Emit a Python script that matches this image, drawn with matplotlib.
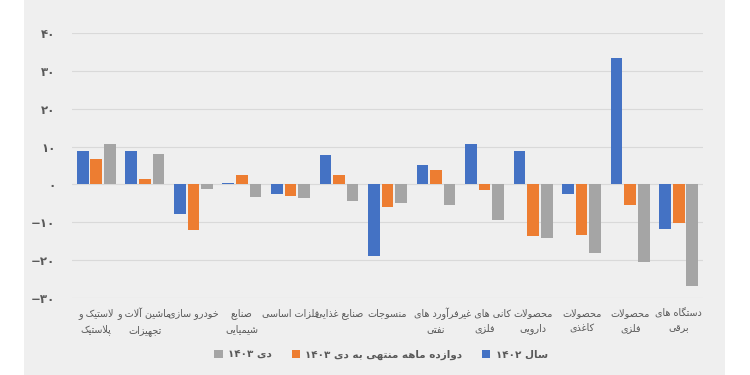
import numpy as np
import matplotlib
matplotlib.use("Agg")
import matplotlib.pyplot as plt
from matplotlib.patches import Rectangle, Patch
from matplotlib.ticker import FuncFormatter

# ---- data ----
categories = [
    "لاستیک و\nپلاستیک",
    "ماشین آلات و\nتجهیزات",
    "خودرو سازی",
    "صنایع\nشیمیایی",
    "فلزات اساسی",
    "صنایع غذایی",
    "منسوجات",
    "فرآورد های\nنفتی",
    "کانی های غیر\nفلزی",
    "محصولات\nدارویی",
    "محصولات\nکاغذی",
    "محصولات\nفلزی",
    "دستگاه های\nبرقی",
]
year_1402 = [8.8, 8.7, -7.8, 0.5, -2.4, 7.9, -19.0, 5.2, 10.7, 8.8, -2.6, 33.4, -11.7]
twelve_months = [6.7, 1.4, -12.1, 2.4, -3.1, 2.4, -5.9, 3.8, -1.5, -13.5, -13.3, -5.4, -10.2]
dey_1403 = [10.6, 8.0, -1.2, -3.3, -3.5, -4.3, -4.9, -5.4, -9.3, -14.1, -18.1, -20.5, -26.7]
series_names = ["سال ۱۴۰۲", "دوازده ماهه منتهی به دی ۱۴۰۳", "دی ۱۴۰۳"]
y_ticks = [-30, -20, -10, 0, 10, 20, 30, 40]

COLORS = ["#4472C4", "#ED7D31", "#A5A5A5"]
TEXT = "#595959"

# ---- minimal Persian shaping (presentation forms + visual order) ----
# isolated, final, initial, medial
FORMS = {
    "ا": ("\uFE8D", "\uFE8E"), "آ": ("\uFE81", "\uFE82"),
    "د": ("\uFEA9", "\uFEAA"), "ذ": ("\uFEAB", "\uFEAC"),
    "ر": ("\uFEAD", "\uFEAE"), "ز": ("\uFEAF", "\uFEB0"),
    "و": ("\uFEED", "\uFEEE"),
    "ب": ("\uFE8F", "\uFE90", "\uFE91", "\uFE92"),
    "پ": ("\uFB56", "\uFB57", "\uFB58", "\uFB59"),
    "ت": ("\uFE95", "\uFE96", "\uFE97", "\uFE98"),
    "ج": ("\uFE9D", "\uFE9E", "\uFE9F", "\uFEA0"),
    "ح": ("\uFEA1", "\uFEA2", "\uFEA3", "\uFEA4"),
    "خ": ("\uFEA5", "\uFEA6", "\uFEA7", "\uFEA8"),
    "س": ("\uFEB1", "\uFEB2", "\uFEB3", "\uFEB4"),
    "ش": ("\uFEB5", "\uFEB6", "\uFEB7", "\uFEB8"),
    "ص": ("\uFEB9", "\uFEBA", "\uFEBB", "\uFEBC"),
    "ع": ("\uFEC9", "\uFECA", "\uFECB", "\uFECC"),
    "غ": ("\uFECD", "\uFECE", "\uFECF", "\uFED0"),
    "ف": ("\uFED1", "\uFED2", "\uFED3", "\uFED4"),
    "ق": ("\uFED5", "\uFED6", "\uFED7", "\uFED8"),
    "ک": ("\uFB8E", "\uFB8F", "\uFB90", "\uFB91"),
    "گ": ("\uFB92", "\uFB93", "\uFB94", "\uFB95"),
    "ل": ("\uFEDD", "\uFEDE", "\uFEDF", "\uFEE0"),
    "م": ("\uFEE1", "\uFEE2", "\uFEE3", "\uFEE4"),
    "ن": ("\uFEE5", "\uFEE6", "\uFEE7", "\uFEE8"),
    "ه": ("\uFEE9", "\uFEEA", "\uFEEB", "\uFEEC"),
    "ی": ("\uFBFC", "\uFBFD", "\uFBFE", "\uFBFF"),
}
LAM_ALEF = {"ا": ("\uFEFB", "\uFEFC"), "آ": ("\uFEF5", "\uFEF6")}


def shape_line(s):
    chars = list(s)
    out = []
    i = 0
    prev_joins = False
    while i < len(chars):
        c = chars[i]
        if c not in FORMS:
            out.append(c)
            prev_joins = False
            i += 1
            continue
        nxt = chars[i + 1] if i + 1 < len(chars) else None
        if c == "ل" and nxt in LAM_ALEF:
            out.append(LAM_ALEF[nxt][1 if prev_joins else 0])
            prev_joins = False
            i += 2
            continue
        forms = FORMS[c]
        dual = len(forms) == 4
        join_next = dual and nxt in FORMS
        if prev_joins and join_next:
            g = forms[3]
        elif prev_joins:
            g = forms[1]
        elif join_next:
            g = forms[2]
        else:
            g = forms[0]
        out.append(g)
        prev_joins = dual
        i += 1
    # visual order: reverse, but keep digit runs left-to-right
    rev = out[::-1]
    res, run = [], []
    for g in rev:
        if g.isdigit():
            run.append(g)
        else:
            if run:
                res.extend(run[::-1])
                run = []
            res.append(g)
    if run:
        res.extend(run[::-1])
    return "".join(res)


def fa(s):
    return "\n".join(shape_line(line) for line in s.split("\n"))


def fa_num(v, pos=None):
    digits = "۰۱۲۳۴۵۶۷۸۹"
    s = "".join(digits[int(d)] for d in str(abs(int(v))))
    return ("−" + s) if v < 0 else s


plt.rcParams["font.family"] = ["DejaVu Sans"]

fig = plt.figure(figsize=(7.5, 3.75), dpi=100)
fig.patch.set_facecolor("white")
fig.patches.append(Rectangle((24 / 750, 0), (725 - 24) / 750, 1,
                             transform=fig.transFigure, facecolor="#efefef",
                             edgecolor="none", zorder=-5))

ax = fig.add_axes([72 / 750, 1 - 298 / 375, (703 - 72) / 750, (298 - 33) / 375])
ax.set_facecolor("none")

x = np.arange(len(categories))
w = 0.24
off = 0.28
for k, vals in enumerate([year_1402, twelve_months, dey_1403]):
    ax.bar(x + (k - 1) * off, vals, width=w, color=COLORS[k], zorder=3)

ax.set_xlim(-0.5, len(categories) - 0.5)
ax.set_ylim(-30, 40)
ax.set_yticks(y_ticks)
ax.yaxis.set_major_formatter(FuncFormatter(fa_num))
ax.grid(True, axis="y", color="#d9d9d9", linewidth=0.8, zorder=0)
for sp in ax.spines.values():
    sp.set_visible(False)
ax.tick_params(axis="y", length=0, pad=12, labelsize=8.5, labelcolor=TEXT)
for t in ax.get_yticklabels():
    t.set_fontweight("bold")
ax.set_xticks([])

for i, lab in enumerate(categories):
    ax.text(x[i], -32.6, fa(lab), ha="center", va="top", fontsize=6.9,
            color=TEXT, linespacing=1.6)

handles = [Patch(facecolor=COLORS[k]) for k in [2, 1, 0]]
labels = [fa(series_names[k]) for k in [2, 1, 0]]
fig.legend(handles, labels, loc="center", bbox_to_anchor=(381 / 750, 1 - 355 / 375),
           ncol=3, frameon=False, prop={"size": 7.5, "weight": "bold"},
           labelcolor=TEXT, handlelength=0.8, handleheight=0.8,
           columnspacing=1.9, handletextpad=0.5)

fig.savefig("out.png", dpi=100, facecolor=fig.get_facecolor())
